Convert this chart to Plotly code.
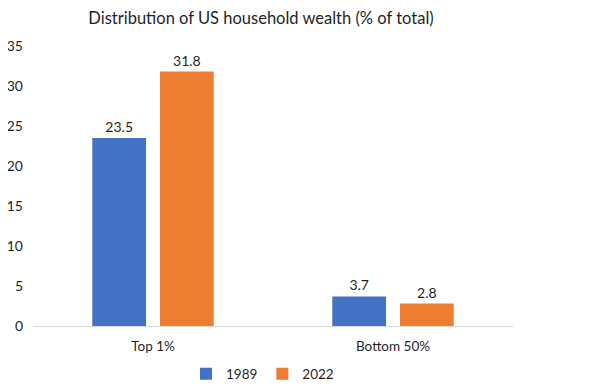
import plotly.graph_objects as go

categories = ["Top 1%", "Bottom 50%"]
values_1989 = [23.5, 3.7]
values_2022 = [31.8, 2.8]
series_names = ["1989", "2022"]
title_text = "Distribution of US household wealth (% of total)"
y_ticks = [0, 5, 10, 15, 20, 25, 30, 35]

FONT = "Lato, Open Sans, sans-serif"
TXT = "#1F1F1F"
W, H = 594, 384  # page body has an 8px margin

fig = go.Figure()
for name, vals, color in [(series_names[0], values_1989, "#4472C4"),
                          (series_names[1], values_2022, "#ED7D31")]:
    fig.add_trace(go.Bar(
        x=categories, y=vals, name=name, marker_color=color,
        marker_line_width=0,
        text=[f"{v:.1f}" for v in vals], textposition="outside",
        textfont=dict(size=14, color=TXT, family=FONT),
        cliponaxis=False,
    ))

fig.update_layout(
    width=W, height=H,
    margin=dict(l=25, r=89, t=38, b=66, autoexpand=False),
    paper_bgcolor="white", plot_bgcolor="white",
    font=dict(family=FONT, color=TXT),
    title=dict(text=title_text, x=253/W, xanchor="center", y=1-10/H, yanchor="middle",
               font=dict(size=16.5, color=TXT, family=FONT)),
    barmode="group", bargap=0.436, bargroupgap=0.206,
    showlegend=True,
    legend=dict(orientation="h", xref="container", x=178/W, xanchor="left",
                y=-(374-326)/280, yanchor="middle",
                font=dict(size=13.5, color=TXT, family=FONT), itemwidth=30,
                tracegroupgap=0),
)
fig.update_yaxes(range=[0, 35], tickvals=y_ticks, showgrid=False, zeroline=False,
                 showline=False, tickfont=dict(size=14, color=TXT),
                 ticklabelstandoff=9, automargin=False)
fig.update_xaxes(showline=True, linecolor="#D9D9D9", linewidth=1, automargin=False,
                 tickfont=dict(size=13.5, color=TXT), ticks="", ticklabelstandoff=8)

fig.write_html("out.html")
